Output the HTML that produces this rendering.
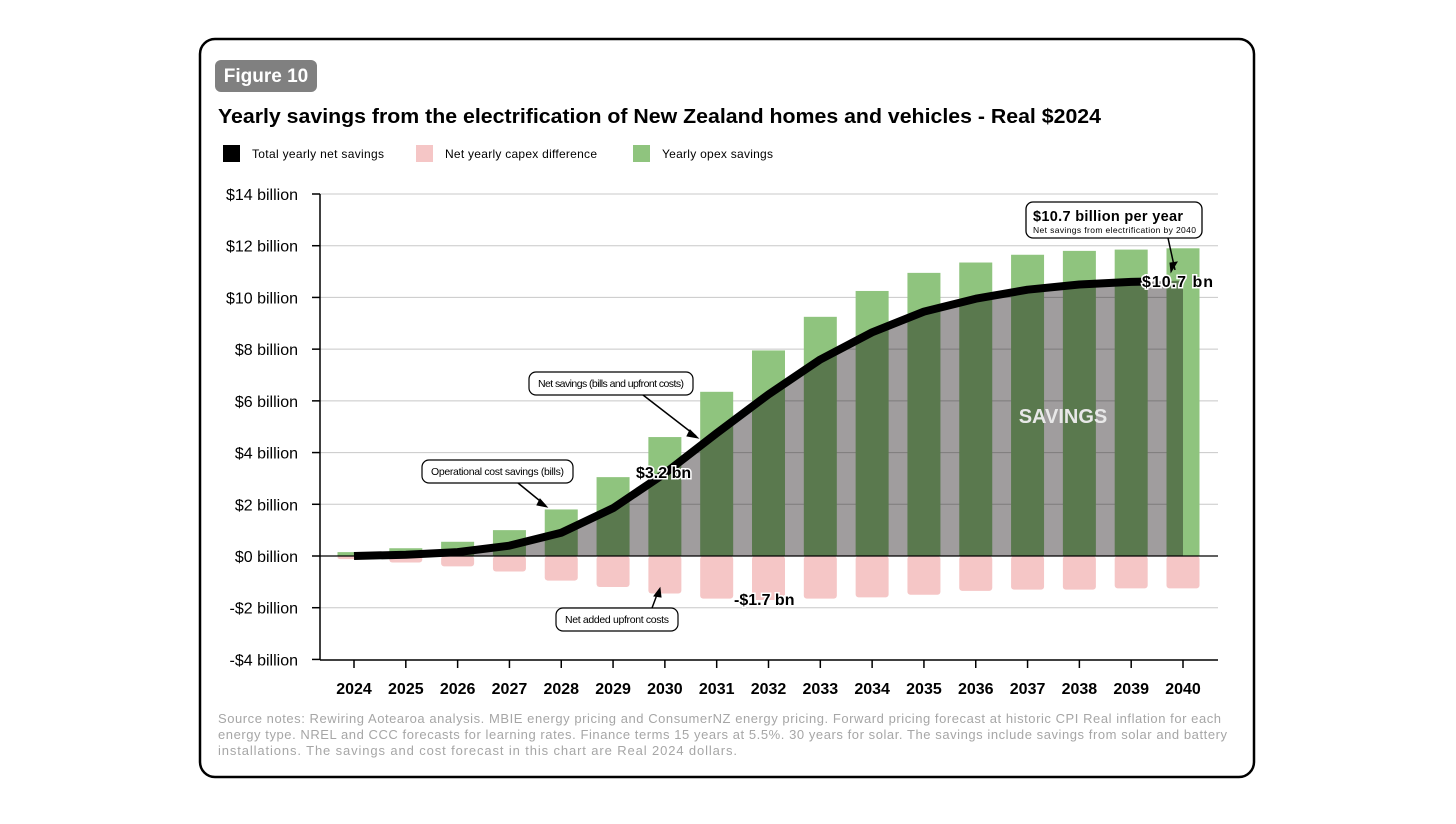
<!DOCTYPE html>
<html><head><meta charset="utf-8"><style>
body{margin:0;background:#fff;width:1456px;height:819px;overflow:hidden;font-family:"Liberation Sans",sans-serif}
</style></head><body>
<svg width="1456" height="819" viewBox="0 0 1456 819">
<rect x="200" y="39" width="1054" height="738" rx="15" fill="#fff" stroke="#000" stroke-width="2.5"/>
<rect x="215" y="60" width="102" height="32" rx="6" fill="#808080"/>
<text x="266" y="82" text-anchor="middle" font-size="19" font-weight="bold" fill="#fff">Figure 10</text>
<text x="218" y="123" font-size="20" font-weight="bold" textLength="883" lengthAdjust="spacingAndGlyphs">Yearly savings from the electrification of New Zealand homes and vehicles - Real $2024</text>
<g font-size="12">
<rect x="223" y="145" width="17" height="17" fill="#000"/><text x="252" y="158" textLength="132">Total yearly net savings</text>
<rect x="416" y="145" width="17" height="17" fill="#f5c6c6"/><text x="445" y="158" textLength="152">Net yearly capex difference</text>
<rect x="633" y="145" width="17" height="17" fill="#8fc47e"/><text x="662" y="158" textLength="111">Yearly opex savings</text>
</g>
<g id="plot"></g>
<text x="1063" y="423" text-anchor="middle" font-size="20" font-weight="bold" fill="#e8e8e8">SAVINGS</text>
<g font-weight="bold" font-size="16" stroke="#fff" stroke-width="3" paint-order="stroke">
<text x="636" y="478">$3.2 bn</text>
<text x="734" y="605">-$1.7 bn</text>
<text x="1142" y="287" textLength="71">$10.7 bn</text>
</g>
<g stroke="#000" fill="#fff">
<rect x="1026" y="202" width="176" height="36" rx="7" stroke-width="1.3"/>
<line x1="1168" y1="238" x2="1175" y2="270" stroke-width="1.5"/><polygon points="1171,272 1177,262 1170,263" fill="#000"/>
<rect x="422" y="460" width="151" height="23" rx="7" stroke-width="1.2"/>
<line x1="518" y1="483" x2="545" y2="505" stroke-width="1.5"/><polygon points="547,507 540,499 537,505" fill="#000"/>
<rect x="529" y="372" width="164" height="23" rx="7" stroke-width="1.2"/>
<line x1="643" y1="395" x2="696" y2="436" stroke-width="1.5"/><polygon points="698,438 690,430 687,436" fill="#000"/>
<rect x="556" y="608" width="122" height="23" rx="7" stroke-width="1.2"/>
<line x1="652" y1="608" x2="658" y2="592" stroke-width="1.5"/><polygon points="660,588 654,596 661,597" fill="#000"/>
</g>
<g font-size="10.5" fill="#000">
<text x="1033" y="221" font-size="14.5" font-weight="bold" textLength="150">$10.7 billion per year</text>
<text x="1033" y="233" font-size="8.5" textLength="163">Net savings from electrification by 2040</text>
<text x="431" y="475" textLength="133">Operational cost savings (bills)</text>
<text x="538" y="387" textLength="146">Net savings (bills and upfront costs)</text>
<text x="565" y="623" textLength="104">Net added upfront costs</text>
</g>
<text font-size="13" fill="#a6a6a6">
<tspan x="218" y="723" textLength="1003">Source notes: Rewiring Aotearoa analysis. MBIE energy pricing and ConsumerNZ energy pricing. Forward pricing forecast at historic CPI Real inflation for each</tspan>
<tspan x="218" y="739" textLength="1009">energy type. NREL and CCC forecasts for learning rates. Finance terms 15 years at 5.5%. 30 years for solar. The savings include savings from solar and battery</tspan>
<tspan x="218" y="755" textLength="519">installations. The savings and cost forecast in this chart are Real 2024 dollars.</tspan>
</text>
</svg>
<script>
const years=[2024,2025,2026,2027,2028,2029,2030,2031,2032,2033,2034,2035,2036,2037,2038,2039,2040];
const opex=[0.15,0.3,0.55,1.0,1.8,3.05,4.6,6.35,7.95,9.25,10.25,10.95,11.35,11.65,11.8,11.85,11.9];
const capex=[-0.12,-0.25,-0.4,-0.6,-0.95,-1.2,-1.45,-1.65,-1.7,-1.65,-1.6,-1.5,-1.35,-1.3,-1.3,-1.25,-1.25];
const net=[0,0.05,0.15,0.4,0.9,1.85,3.2,4.75,6.25,7.6,8.65,9.45,9.95,10.3,10.5,10.6,10.65];
const yTicks=[-4,-2,0,2,4,6,8,10,12,14];
const NS='http://www.w3.org/2000/svg';
const g=document.getElementById('plot');
const yS=v=>556-v*(362/14);
const xS=i=>354+i*(829/16);
const bw=33;
function mk(t,a,p){const e=document.createElementNS(NS,t);for(const k in a)e.setAttribute(k,a[k]);(p||g).appendChild(e);return e;}
yTicks.forEach(v=>{
 if(v!==0&&v!==-4){const l=mk('line',{x1:320,x2:1218,y1:yS(v),y2:yS(v),stroke:'#c8c8c8','stroke-width':1});
 
 }
 mk('line',{x1:312,x2:320,y1:yS(v),y2:yS(v),stroke:'#000','stroke-width':1.5});
 const t=mk('text',{x:298,y:yS(v)+6,'text-anchor':'end','font-size':16});
 t.textContent=(v<0?'-$'+(-v):'$'+v)+' billion';
 
 
});
years.forEach((yr,i)=>{
 const c=mk('rect',{x:xS(i)-bw/2,y:yS(0),width:bw,height:yS(capex[i])-yS(0),rx:3,fill:'#f5c6c6'});
 
 
 const o=mk('rect',{x:xS(i)-bw/2,y:yS(opex[i]),width:bw,height:yS(0)-yS(opex[i]),fill:'#8fc47e'});
 
 
 mk('line',{x1:xS(i),x2:xS(i),y1:660,y2:668,stroke:'#000','stroke-width':1.5});
 const t=mk('text',{x:xS(i),y:694,'text-anchor':'middle','font-size':16,'font-weight':'bold'});
 t.textContent=yr;
 
 
});
let pts=net.map((v,i)=>xS(i)+','+yS(v));
const area=mk('polygon',{points:xS(0)+','+yS(0)+' '+pts.join(' ')+' '+xS(net.length-1)+','+yS(0),fill:'#a09d9e',style:'mix-blend-mode:multiply'});


mk('line',{x1:320,x2:1218,y1:yS(0),y2:yS(0),stroke:'#000','stroke-width':1.2});
mk('line',{x1:320,x2:320,y1:194,y2:660,stroke:'#000','stroke-width':1.5});
mk('line',{x1:320,x2:1218,y1:660,y2:660,stroke:'#000','stroke-width':1.5});
const lp=net.slice(0,16).map((v,i)=>xS(i)+','+yS(v));
const n=net.length-1, fx=0.25;
lp.push((xS(n-1)+fx*(xS(n)-xS(n-1)))+','+yS(net[n-1]+fx*(net[n]-net[n-1])));
const line=mk('polyline',{points:lp.join(' '),fill:'none',stroke:'#000','stroke-width':8,'stroke-linejoin':'round'});


</script>
</body></html>
